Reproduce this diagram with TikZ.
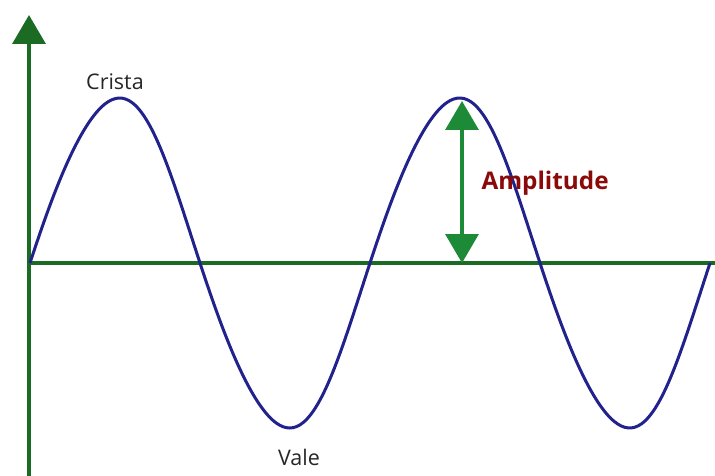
\documentclass[tikz,border=0pt]{standalone}
\usepackage{fontspec}
\setmainfont{Open Sans}
\usepackage{xcolor}
\usetikzlibrary{arrows.meta}

\definecolor{axisgreen}{HTML}{1B6B25}
\definecolor{arrowgreen}{HTML}{1D8A38}
\definecolor{wavenavy}{HTML}{22228C}
\definecolor{amplred}{HTML}{8A0A0A}

\tikzset{
  axis/.style={axisgreen, line width=3.5pt},
  wave/.style={wavenavy, line width=3pt},
  ampl/.style={arrowgreen, line width=3.5pt,
    {Triangle[length=29pt,width=33pt]}-{Triangle[length=29pt,width=33pt]}},
  lbl/.style={font=\fontsize{21.5}{25}\selectfont, text=black!85}
}

\begin{document}
\begin{tikzpicture}[x=1pt,y=-1pt]
\useasboundingbox (0,0) rectangle (715,476);
% axes
\coordinate (origin) at (29,263);
\coordinate (ytop) at (29,15);
\coordinate (ybot) at (29,476);
\coordinate (xend) at (715,263);
\draw[axis, -{Triangle[length=29pt,width=33pt]}] (ybot) -- (ytop);
\draw[axis] (origin) -- (xend);
% the wave, crests leaning a little to the right
\draw[wave, domain=30:710, samples=200, smooth]
  plot (\x, {263-165*sin((\x-30)/170*180 - 2.5*(1-cos((\x-30)/170*360)))});
% amplitude
\coordinate (peak) at (462,101);
\coordinate (base) at (462,263);
\draw[ampl] (base) -- (peak);
\node[anchor=west, text=amplred, font=\fontsize{24.3}{28}\selectfont\bfseries] (amplitude) at (478,183) {Amplitude};
% labels
\node[lbl] (crista) at (115,82) {Crista};
\node[lbl] (vale) at (299,457) {Vale};
\end{tikzpicture}
\end{document}
